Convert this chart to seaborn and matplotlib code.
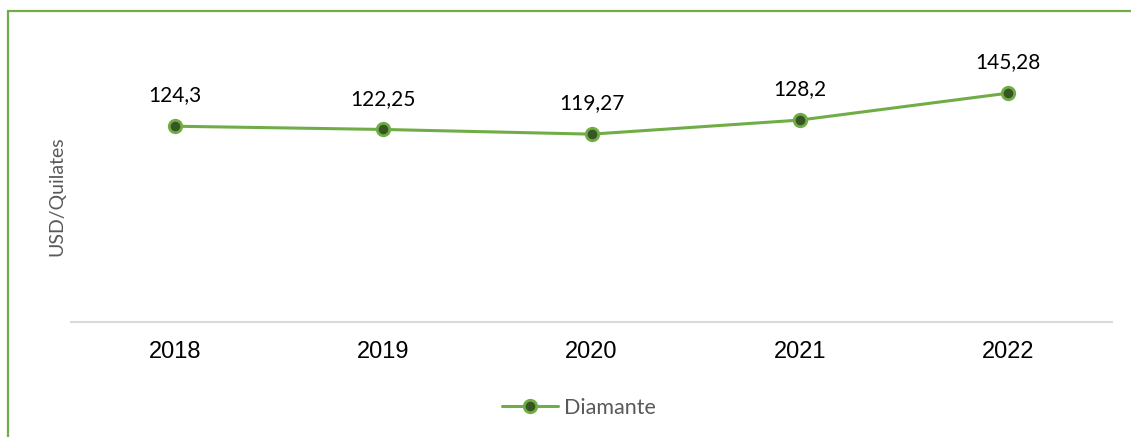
import matplotlib
matplotlib.use("Agg")
import matplotlib.pyplot as plt
import seaborn as sns
import pandas as pd
from matplotlib.patches import Rectangle

years = ["2018", "2019", "2020", "2021", "2022"]
values = [124.3, 122.25, 119.27, 128.2, 145.28]
labels = ["124,3", "122,25", "119,27", "128,2", "145,28"]
series_name = "Diamante"
y_title = "USD/Quilates"

sns.set_theme(style="white")
plt.rcParams["font.family"] = ["Lato", "DejaVu Sans"]

df = pd.DataFrame({"Año": years, "Valor": values})

fig = plt.figure(figsize=(11.31, 4.37), dpi=100)
ax = fig.add_axes([71 / 1131, 115 / 437, (1112 - 71) / 1131, (322 - 70) / 437])

line_green = "#70AD47"
dark_green = "#375623"

sns.lineplot(data=df, x="Año", y="Valor", ax=ax, color=line_green, linewidth=2.2,
             marker="o", markersize=9, markerfacecolor=dark_green,
             markeredgecolor=line_green, markeredgewidth=2, label=series_name,
             legend=False)

for i, (v, t) in enumerate(zip(values, labels)):
    ax.annotate(t, (i, v), xytext=(0, 15), textcoords="offset points",
                ha="center", va="bottom", fontsize=15, color="#000000")

ax.set_xlim(-0.5, 4.5)
ax.set_ylim(0, 160)
ax.set_yticks([])
ax.set_xlabel("")
ax.set_ylabel(y_title, fontsize=14, color="#595959")
ax.yaxis.set_label_coords(-6 / 1041, 0.5)
ax.tick_params(axis="x", length=0, pad=14, labelsize=17, labelcolor="#000000",
               labelfontfamily="Liberation Sans")
for s in ["top", "right", "left"]:
    ax.spines[s].set_visible(False)
ax.spines["bottom"].set_color("#D9D9D9")
ax.spines["bottom"].set_linewidth(1.5)
ax.grid(False)

handles, lbls = ax.get_legend_handles_labels()
leg = fig.legend(handles, lbls, loc="center", bbox_to_anchor=(579 / 1131, 29 / 437),
                 frameon=False, fontsize=15.5, handlelength=2.6, handletextpad=0.25)
for txt in leg.get_texts():
    txt.set_color("#595959")

fig.patches.append(Rectangle((8 / 1131, -0.2), 1.5, 1.2 - 11 / 437,
                             transform=fig.transFigure, fill=False,
                             edgecolor=line_green, linewidth=1.6, zorder=0))

fig.savefig("out.png", dpi=100, facecolor="white")
